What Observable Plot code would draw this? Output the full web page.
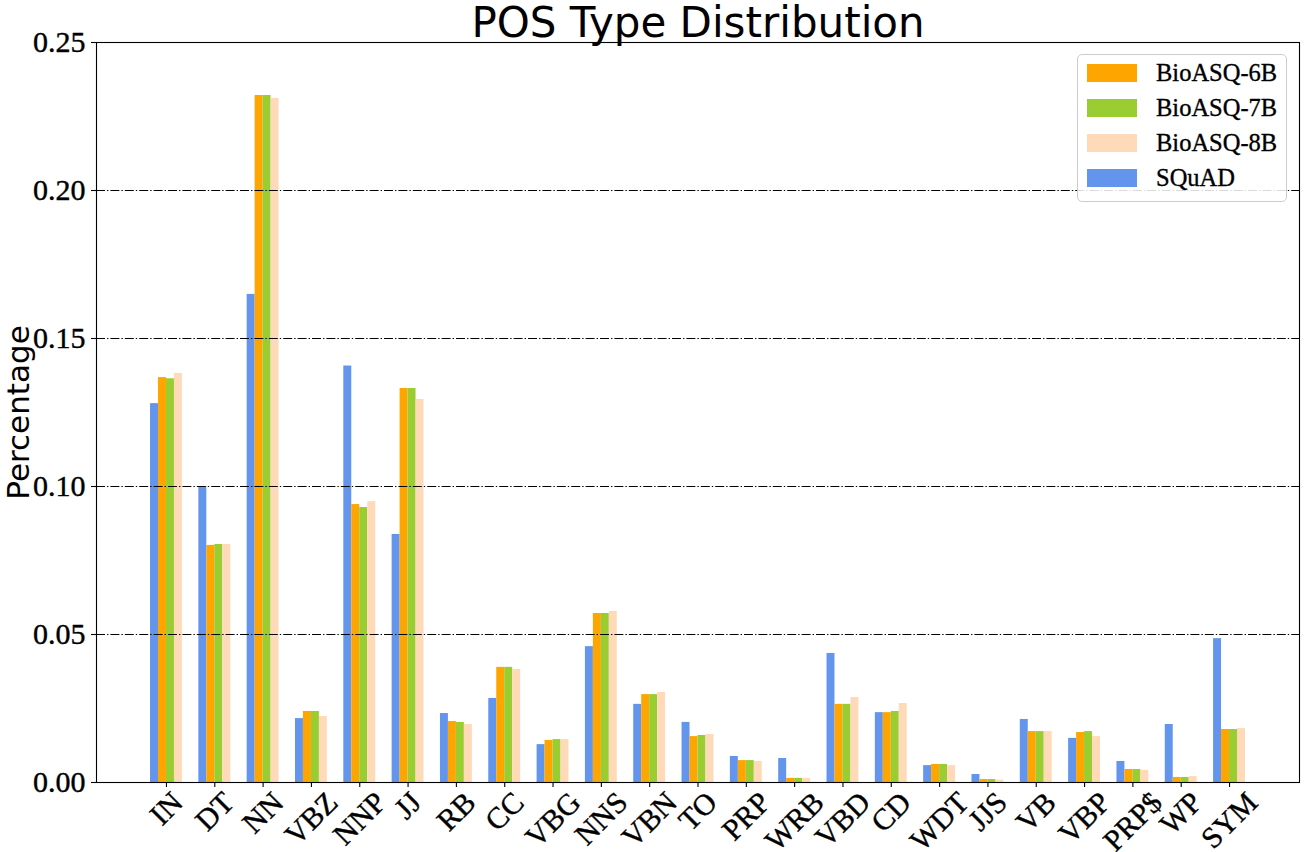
<!DOCTYPE html>
<html>
<head>
<meta charset="utf-8">
<script src="https://cdn.jsdelivr.net/npm/d3@7"></script>
<script src="https://cdn.jsdelivr.net/npm/@observablehq/plot@0.6"></script>
<style>
  html, body { margin: 0; padding: 0; background: white; }
  #wrap { position: relative; width: 1304px; height: 852px; }
  #legend {
    position: absolute; left: 1077px; top: 54px; width: 210px; height: 148px;
    border: 1px solid #cccccc; border-radius: 5px; background: rgba(255,255,255,0.85);
    font-family: 'Liberation Serif', 'Times New Roman', serif; font-size: 24.5px; color: black;
    -webkit-text-stroke: 0.35px black;
    box-sizing: border-box;
  }
  .lrow { position: absolute; left: 0; height: 30px; display: flex; align-items: center; }
  .lsw { width: 50px; height: 18px; margin-left: 9px; }
  .ltx { margin-left: 19px; white-space: nowrap; }
</style>
</head>
<body>
<div id="wrap"><div id="legend"></div></div>
<script>
const categories = ["IN","DT","NN","VBZ","NNP","JJ","RB","CC","VBG","NNS","VBN","TO","PRP","WRB","VBD","CD","WDT","JJS","VB","VBP","PRP$","WP","SYM"];
const squad  = [0.1280,0.1000,0.1649,0.0216,0.1407,0.0838,0.0233,0.0284,0.0128,0.0459,0.0264,0.0203,0.0088,0.0081,0.0436,0.0236,0.0057,0.0027,0.0213,0.0149,0.0071,0.0196,0.0486];
const bio6b  = [0.1368,0.0801,0.2321,0.0240,0.0939,0.1331,0.0206,0.0389,0.0142,0.0571,0.0297,0.0155,0.0074,0.0014,0.0264,0.0236,0.0061,0.0010,0.0172,0.0169,0.0044,0.0017,0.0179];
const bio7b  = [0.1364,0.0804,0.2321,0.0240,0.0929,0.1331,0.0203,0.0389,0.0145,0.0571,0.0297,0.0159,0.0074,0.0014,0.0264,0.0240,0.0061,0.0010,0.0172,0.0172,0.0044,0.0017,0.0179];
const bio8b  = [0.1382,0.0804,0.2311,0.0223,0.0949,0.1294,0.0196,0.0382,0.0145,0.0578,0.0304,0.0162,0.0071,0.0014,0.0287,0.0267,0.0057,0.0008,0.0172,0.0155,0.0041,0.0020,0.0182];
const seriesNames  = ["SQuAD","BioASQ-6B","BioASQ-7B","BioASQ-8B"];
const seriesValues = [squad, bio6b, bio7b, bio8b];
const seriesColors = ["#6495ED","#FFA500","#9ACD32","#FFDAB9"];
const legendOrder  = ["BioASQ-6B","BioASQ-7B","BioASQ-8B","SQuAD"];
const yTicks = [0, 0.05, 0.10, 0.15, 0.20, 0.25];
const gridTicks = [0.05, 0.10, 0.15, 0.20];
const title = "POS Type Distribution";
const yLabel = "Percentage";

const rows = [];
seriesNames.forEach((s, i) => categories.forEach((c, j) => rows.push({series: s, cat: c, value: seriesValues[i][j]})));

const groupWidth = 31.9;            // bandwidth of each category group (px)
const barW = groupWidth / seriesNames.length;
const tickFont = 30;

const barMarks = seriesNames.map((s, i) =>
  Plot.barY(rows.filter(r => r.series === s), {
    x: "cat", y: "value", fill: seriesColors[i],
    insetLeft: i * barW, insetRight: (seriesNames.length - 1 - i) * barW
  })
);

const plot = Plot.plot({
  width: 1304, height: 852,
  marginLeft: 96, marginRight: 5, marginTop: 42, marginBottom: 70,
  style: {fontFamily: "'Liberation Serif', 'Times New Roman', serif", fontSize: tickFont + "px", background: "white", color: "black", overflow: "visible"},
  x: {domain: categories, paddingInner: 0.34, paddingOuter: 1.118, round: false, axis: null},
  y: {domain: [0, 0.25], axis: null},
  marks: [
    ...barMarks,
    Plot.ruleY(gridTicks, {stroke: "black", strokeWidth: 1, strokeDasharray: "9,2,1.4,2"}),
    Plot.frame({stroke: "black", strokeWidth: 1.1}),
    Plot.axisY({ticks: yTicks, tickFormat: d3.format(".2f"), tickSize: 5, tickPadding: 6, label: null, fontSize: tickFont, strokeWidth: 1.1, className: "ytk"}),
    Plot.axisX({tickSize: 5, tickFormat: () => "", label: null, strokeWidth: 1.1}),
    Plot.text(categories, {x: d => d, text: d => d, frameAnchor: "bottom", rotate: -45, textAnchor: "middle", lineAnchor: "middle", fontSize: tickFont, fill: "black", stroke: "black", strokeWidth: 0.4, className: "xlab"}),
    Plot.text([yLabel], {text: d => d, frameAnchor: "left", rotate: -90, dx: -77, textAnchor: "middle", lineAnchor: "middle", fontFamily: "'DejaVu Sans', sans-serif", fontSize: 31}),
    Plot.text([title], {text: d => d, frameAnchor: "top", textAnchor: "middle", lineAnchor: "bottom", dy: -6, fontFamily: "'DejaVu Sans', sans-serif", fontSize: 42})
  ]
});

const wrap = document.getElementById("wrap");
wrap.insertBefore(plot, wrap.firstChild);

// slightly heavier serif tick labels, as in the reference rendering
plot.querySelectorAll("g.ytk text").forEach(t => { t.setAttribute("stroke", "black"); t.setAttribute("stroke-width", "0.4"); });

// matplotlib-style centred rotated tick labels: rotated bbox hangs below the axis
plot.querySelectorAll("g.xlab text").forEach(t => {
  const L = t.getComputedTextLength();
  const shift = 15 + 0.3536 * L;
  t.setAttribute("transform", `translate(0,${shift}) ` + (t.getAttribute("transform") || ""));
});

// legend
const legend = document.getElementById("legend");
legendOrder.forEach((name, k) => {
  const i = seriesNames.indexOf(name);
  const row = document.createElement("div");
  row.className = "lrow";
  row.style.top = (3 + k * 35) + "px";
  row.innerHTML = `<div class="lsw" style="background:${seriesColors[i]}"></div><div class="ltx">${name}</div>`;
  legend.appendChild(row);
});
</script>
</body>
</html>
